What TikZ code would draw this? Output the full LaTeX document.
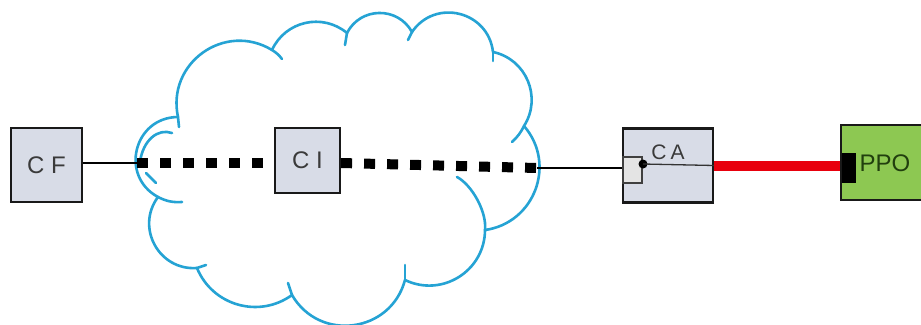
\documentclass[tikz,border=0pt]{standalone}
\usepackage{fontspec}
\setmainfont{Liberation Sans}
\usetikzlibrary{calc}
\definecolor{cloudblue}{HTML}{25A3D4}
\definecolor{boxfill}{HTML}{D8DCE7}
\definecolor{ppofill}{HTML}{8DC852}
\definecolor{txtgray}{HTML}{3A3A3A}
\definecolor{ppotxt}{HTML}{213F0E}
\definecolor{redline}{HTML}{E8000D}
\definecolor{smallfill}{HTML}{E4E4E4}
\tikzset{
  arcb/.style 2 args={to path={.. controls ($(\tikztostart)!#2pt!#1:(\tikztotarget)$) and ($(\tikztotarget)!#2pt!-#1:(\tikztostart)$) .. (\tikztotarget) \tikztonodes}},
  cloudline/.style={draw=cloudblue, line width=2.6pt, line join=round, line cap=round},
  boxst/.style={draw=black!90, line width=2.2pt, fill=boxfill, inner sep=0pt, text=txtgray, font=\fontsize{24}{24}\selectfont},
  wire/.style={draw=black, line width=2.5pt},
  dotwire/.style={draw=black, line width=10pt, dash pattern=on 11pt off 12pt},
  thinwire/.style={draw=black!80, line width=1.3pt},
  redwire/.style={draw=redline, line width=10pt}
}
\begin{document}
\begin{tikzpicture}[x=1pt,y=-1pt]
\useasboundingbox (0,0) rectangle (921,324);
\fill[white] (0,0) rectangle (921,324);
\clip (0,0) rectangle (921,324);
% cloud junctions
\coordinate (j1) at (178,117);
\coordinate (j2) at (272,50);
\coordinate (j3) at (347,33);
\coordinate (j4) at (412,32);
\coordinate (j5) at (493,52);
\coordinate (j6) at (524,126);
\coordinate (j7) at (485,230);
\coordinate (j8) at (405,280);
\coordinate (j9) at (292,295);
\coordinate (j10) at (197,268);
\coordinate (j11) at (158,197);
\draw[cloudline] (j1) to[arcb={66.7}{55.2}] (j2) to[arcb={52.6}{31.9}] (j3)
  to[arcb={62}{29.5}] (j4) to[arcb={69.6}{41.2}] (j5) to[arcb={55.3}{34}] (j6)
  to[arcb={61.5}{50.1}] (j7) to[arcb={57.7}{41}] (j8) to[arcb={67.4}{54.9}] (j9)
  to[arcb={51.8}{40.7}] (j10) to[arcb={65.4}{38.1}] (j11) to[arcb={75.6}{44.1}] (j1);
% hooks
\draw[cloudline] (j1) -- (179,127);
\draw[cloudline] (j2) to[bend left=10] (282,59);
\draw[cloudline] (j3) -- (345,45);
\draw[cloudline] (j4) -- (408,40);
\draw[cloudline] (j5) -- (493,61);
\draw[cloudline] (j6) to[bend left=10] (512,142);
\draw[cloudline] (j7) .. controls (487,212) and (472,185) .. (457,177);
\draw[cloudline] (j8) -- (405,265);
\draw[cloudline] (j9) -- (288,283);
\draw[cloudline] (j10) -- (206,265);
\draw[cloudline] (j11) to[bend right=15] (182,202);
\draw[cloudline] (140,162) .. controls (143,140) and (158,128) .. (172,133);
\draw[cloudline] (146,173) -- (156,183);
% nodes
\node[boxst, minimum width=71pt, minimum height=74pt] (cf) at (46.5,165) {C F};
\node[boxst, minimum width=65pt, minimum height=65pt] (ci) at (307.5,160.5) {\raisebox{-3pt}{C I}};
\coordinate (cl) at (137,163);
\coordinate (cr) at (537,168);
% connectors
\draw[wire] (cf.east |- cl) -- (cl);
\draw[dotwire] (cl) -- (ci.west |- cl);
\draw[dotwire] (ci.east |- cl) -- (cr);
\node[boxst, minimum width=90pt, minimum height=74pt] (ca) at (668,165.5) {};
\node[text=txtgray, font=\fontsize{21}{21}\selectfont, inner sep=0pt] (catext) at (668,152.5) {C\hspace{4pt}A};
\node[draw=black!75, line width=1.3pt, fill=smallfill, minimum width=19pt, minimum height=26pt, inner sep=0pt] (casq) at (632.5,170) {};
\draw[wire] (cr) -- (casq.west |- cr);
\node[circle, fill=black, inner sep=0pt, minimum size=9pt] (cadot) at (643,164) {};
\draw[thinwire] (cadot.center) -- (ca.east);
\node[draw=black!90, line width=2.2pt, fill=ppofill, minimum width=94pt, minimum height=75pt, inner sep=0pt] (ppo) at (888,162.5) {};
\draw[redwire] (ca.east) -- (ca.east -| ppo.west);
\node[fill=black, minimum width=14pt, minimum height=30pt, inner sep=0pt] (ppoport) at (849,168) {};
\node[text=ppotxt, font=\fontsize{24}{24}\selectfont, inner sep=0pt] (ppotext) at (885,163) {PPO};
\end{tikzpicture}
\end{document}
